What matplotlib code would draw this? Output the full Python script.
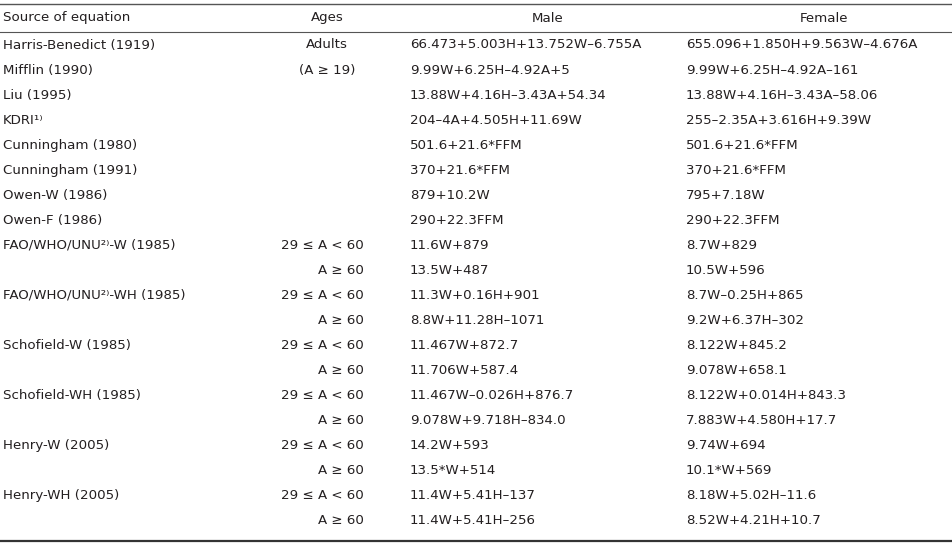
import matplotlib
matplotlib.use("Agg")
import matplotlib.pyplot as plt

# table content, one entry per row
sources = [
    "Harris-Benedict (1919)", "Mifflin (1990)", "Liu (1995)", "KDRI¹⁾",
    "Cunningham (1980)", "Cunningham (1991)", "Owen-W (1986)", "Owen-F (1986)",
    "FAO/WHO/UNU²⁾-W (1985)", "", "FAO/WHO/UNU²⁾-WH (1985)", "",
    "Schofield-W (1985)", "", "Schofield-WH (1985)", "",
    "Henry-W (2005)", "", "Henry-WH (2005)", "",
]
ages = [
    "Adults", "(A ≥ 19)", "", "", "", "", "", "",
    "29 ≤ A < 60", "A ≥ 60", "29 ≤ A < 60", "A ≥ 60",
    "29 ≤ A < 60", "A ≥ 60", "29 ≤ A < 60", "A ≥ 60",
    "29 ≤ A < 60", "A ≥ 60", "29 ≤ A < 60", "A ≥ 60",
]
male = [
    "66.473+5.003H+13.752W–6.755A", "9.99W+6.25H–4.92A+5",
    "13.88W+4.16H–3.43A+54.34", "204–4A+4.505H+11.69W",
    "501.6+21.6*FFM", "370+21.6*FFM", "879+10.2W", "290+22.3FFM",
    "11.6W+879", "13.5W+487", "11.3W+0.16H+901", "8.8W+11.28H–1071",
    "11.467W+872.7", "11.706W+587.4", "11.467W–0.026H+876.7", "9.078W+9.718H–834.0",
    "14.2W+593", "13.5*W+514", "11.4W+5.41H–137", "11.4W+5.41H–256",
]
female = [
    "655.096+1.850H+9.563W–4.676A", "9.99W+6.25H–4.92A–161",
    "13.88W+4.16H–3.43A–58.06", "255–2.35A+3.616H+9.39W",
    "501.6+21.6*FFM", "370+21.6*FFM", "795+7.18W", "290+22.3FFM",
    "8.7W+829", "10.5W+596", "8.7W–0.25H+865", "9.2W+6.37H–302",
    "8.122W+845.2", "9.078W+658.1", "8.122W+0.014H+843.3", "7.883W+4.580H+17.7",
    "9.74W+694", "10.1*W+569", "8.18W+5.02H–11.6", "8.52W+4.21H+10.7",
]
headers = ["Source of equation", "Ages", "Male", "Female"]

W, H = 952, 548
fig = plt.figure(figsize=(W / 100, H / 100), dpi=100)
ax = fig.add_axes([0, 0, 1, 1])
ax.set_xlim(0, W)
ax.set_ylim(H, 0)
ax.axis("off")

txt = dict(fontsize=9.6, color="#231f20", va="center", family="DejaVu Sans")
x_src, x_age_c, x_age_r, x_male, x_fem = 3, 327, 364, 410, 686

# header
ax.text(x_src, 18, headers[0], ha="left", **txt)
ax.text(x_age_c, 18, headers[1], ha="center", **txt)
ax.text(548, 18, headers[2], ha="center", **txt)
ax.text(824, 18, headers[3], ha="center", **txt)

y0, step = 45, 25.05
for i in range(len(sources)):
    y = y0 + i * step
    ax.text(x_src, y, sources[i], ha="left", **txt)
    if ages[i] in ("Adults", "(A ≥ 19)"):
        ax.text(x_age_c, y, ages[i], ha="center", **txt)
    else:
        ax.text(x_age_r, y, ages[i], ha="right", **txt)
    ax.text(x_male, y, male[i], ha="left", **txt)
    ax.text(x_fem, y, female[i], ha="left", **txt)

# rules
ax.plot([0, W], [4, 4], color="#555555", lw=1.0)
ax.plot([0, W], [32, 32], color="#555555", lw=0.8)
ax.plot([0, W], [541, 541], color="#333333", lw=1.6)

fig.savefig("out.png", dpi=100)
